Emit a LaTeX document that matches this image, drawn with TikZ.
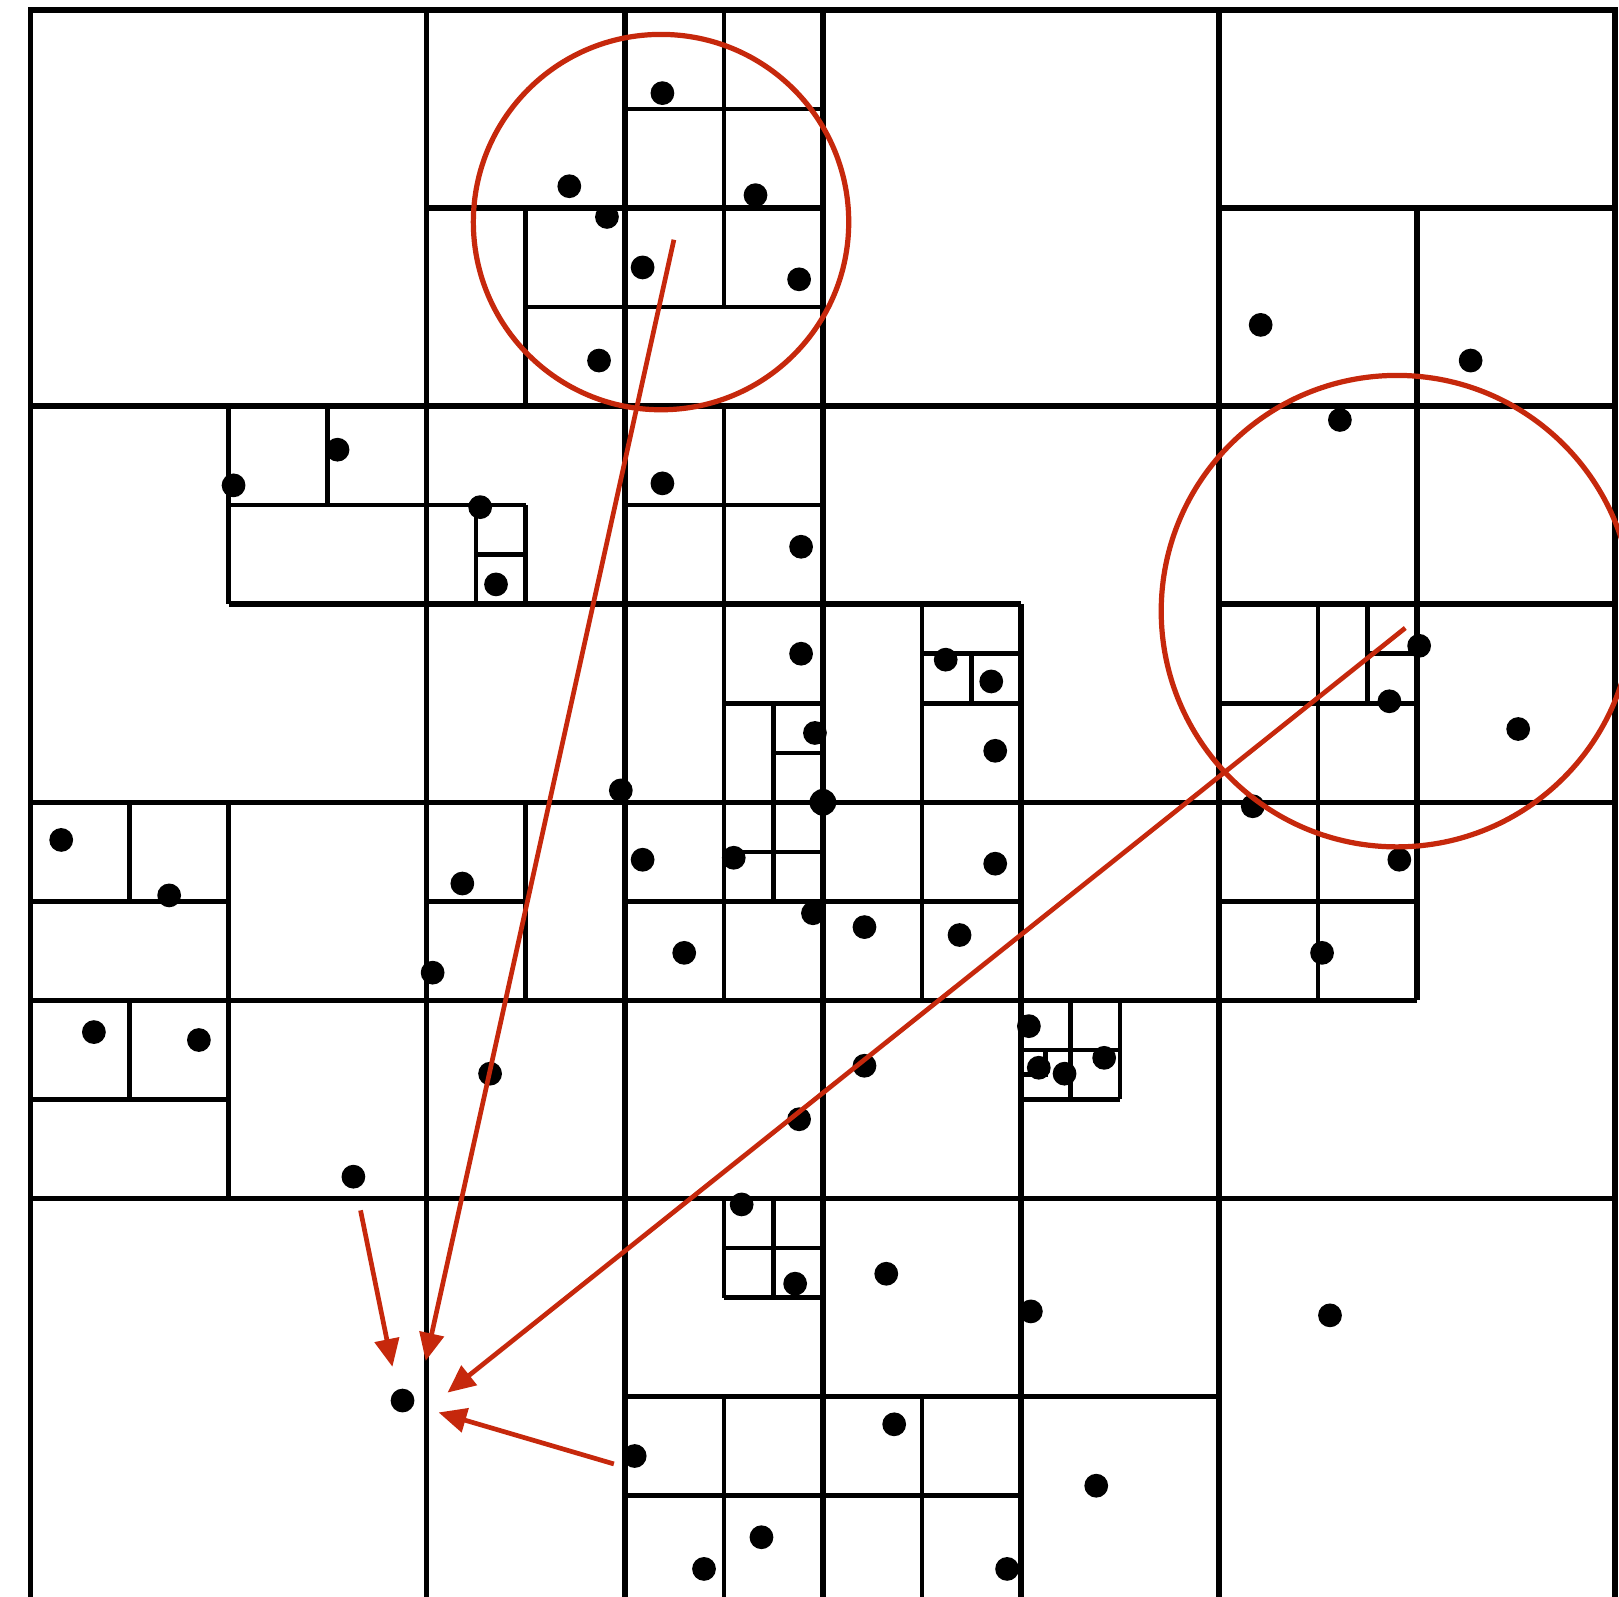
\documentclass[tikz,border=0pt]{standalone}
\usepackage{tikz}
\usetikzlibrary{arrows.meta}
\definecolor{searchred}{RGB}{198,40,12}

\begin{document}
\begin{tikzpicture}[
        x=2cm, y=-2cm,
        coarse/.style={line width=1.6pt},
        fine/.style={line width=1.3pt},
        pt/.style={circle, fill=black, inner sep=0pt, minimum size=0.24cm},
        searchball/.style={circle, draw=searchred, line width=1.5pt, inner sep=0pt},
        probe/.style={-{Triangle[length=8pt,width=7pt]}, searchred, line width=1.35pt}
    ]
    \useasboundingbox (-0.154,-0.05) rectangle (8.019,8.007);

    % coarse grid
    \draw[coarse] (0,8.1) -- (0,0) -- (8,0) -- (8,8.1);
    \foreach \v in {2,4,6} {
        \draw[coarse] (\v,0) -- (\v,8.1);
        \draw[coarse] (0,\v) -- (8,\v);
    }
    \draw[coarse] (1,2) -- (1,3) (1,4) -- (1,6) (3,0) -- (3,8.1) (5,3) -- (5,8.1) (7,1) -- (7,5);
    \draw[coarse] (2,1) -- (4,1) (6,1) -- (8,1) (1,3) -- (5,3) (6,3) -- (8,3) (0,5) -- (7,5) (3,7) -- (6,7);

    % half cells
    \draw[fine] (0.5,4) -- (0.5,4.5) (0.5,5) -- (0.5,5.5) (0,4.5) -- (1,4.5) (0,5.5) -- (1,5.5);
    \draw[fine] (1.5,2) -- (1.5,2.5) (1,2.5) -- (2.5,2.5) (3,2.5) -- (4,2.5);
    \draw[fine] (2.5,1) -- (2.5,2) (2.5,2.5) -- (2.5,3) (2.5,4) -- (2.5,5);
    \draw[fine] (3.5,0) -- (3.5,1.5) (3.5,2) -- (3.5,5) (3.5,6) -- (3.5,6.5) (3.5,7) -- (3.5,8.1);
    \draw[fine] (3,0.5) -- (4,0.5) (2.5,1.5) -- (4,1.5);
    \draw[fine] (3.5,3.5) -- (4,3.5) (4.5,3.5) -- (5,3.5) (6,3.5) -- (7,3.5);
    \draw[fine] (2,4.5) -- (2.5,4.5) (3,4.5) -- (5,4.5) (6,4.5) -- (7,4.5);
    \draw[fine] (4.5,3) -- (4.5,5) (4.5,7) -- (4.5,8.1) (6.5,3) -- (6.5,5);
    \draw[fine] (3.5,6.5) -- (4,6.5) (3,7.5) -- (5,7.5);
    \draw[fine] (5.5,5) -- (5.5,5.5) (5,5.5) -- (5.5,5.5);

    % quarter cells
    \draw[fine] (2.25,2.5) -- (2.25,3) (2.25,2.75) -- (2.5,2.75);
    \draw[fine] (3.75,3.5) -- (3.75,4.5) (3.75,3.75) -- (4,3.75) (3.5,4.25) -- (4,4.25);
    \draw[fine] (3.75,6) -- (3.75,6.5) (3.5,6.25) -- (4,6.25);
    \draw[fine] (4.75,3.25) -- (4.75,3.5) (4.5,3.25) -- (5,3.25);
    \draw[fine] (6.75,3) -- (6.75,3.5) (6.75,3.25) -- (7,3.25);
    \draw[fine] (5.25,5) -- (5.25,5.5) (5,5.25) -- (5.5,5.25);
    \draw[fine] (5,5.25) rectangle (5.125,5.375);

    % data points
    \foreach \x/\y [count=\i] in {
        2.72/0.89, 3.19/0.42, 3.66/0.935, 2.91/1.045, 3.09/1.30, 3.88/1.36, 2.87/1.77,
        1.025/2.40, 1.55/2.22, 2.27/2.51, 2.35/2.90, 3.19/2.39, 3.89/2.71, 3.89/3.25,
        3.96/3.65, 2.98/3.94, 4.62/3.28, 4.85/3.39, 4.87/3.74,
        6.61/2.07, 6.21/1.59, 7.27/1.77, 7.01/3.21, 6.86/3.49, 7.51/3.63,
        6.17/4.02, 6.91/4.29, 6.52/4.76,
        0.155/4.19, 0.70/4.47, 0.32/5.16, 0.85/5.20, 1.63/5.89, 2.18/4.41, 2.03/4.86, 2.32/5.37,
        3.09/4.29, 3.55/4.28, 3.30/4.76, 3.95/4.56, 3.88/5.60,
        4.21/4.63, 4.69/4.67, 4.87/4.31, 4.21/5.33, 5.04/5.13, 5.09/5.34, 5.22/5.37, 5.42/5.29,
        3.59/6.03, 3.86/6.43, 4.32/6.38, 5.05/6.57, 6.56/6.59,
        3.05/7.30, 4.36/7.14, 5.38/7.45, 3.69/7.71, 3.40/7.87, 4.93/7.87}
        \node[pt] (p\i) at (\x,\y) {};
    \node[pt, minimum size=0.27cm] (mid) at (4,4) {};
    \node[pt] (target) at (1.878,7.02) {};

    % search ranges
    \node[searchball, minimum size=3.79cm] (ball1) at (3.183,1.071) {};
    \node[searchball, minimum size=4.76cm] (ball2) at (6.898,3.035) {};

    \coordinate (from1) at (3.248,1.16);
    \coordinate (to1) at (1.995,6.82);
    \coordinate (from2) at (6.94,3.12);
    \coordinate (to2) at (2.105,6.98);
    \coordinate (from3) at (1.666,6.06);
    \coordinate (to3) at (1.827,6.85);
    \coordinate (from4) at (2.945,7.34);
    \coordinate (to4) at (2.06,7.08);

    \draw[probe] (from1) -- (to1);
    \draw[probe] (from2) -- (to2);
    \draw[probe] (from3) -- (to3);
    \draw[probe] (from4) -- (to4);

\end{tikzpicture}
\end{document}
